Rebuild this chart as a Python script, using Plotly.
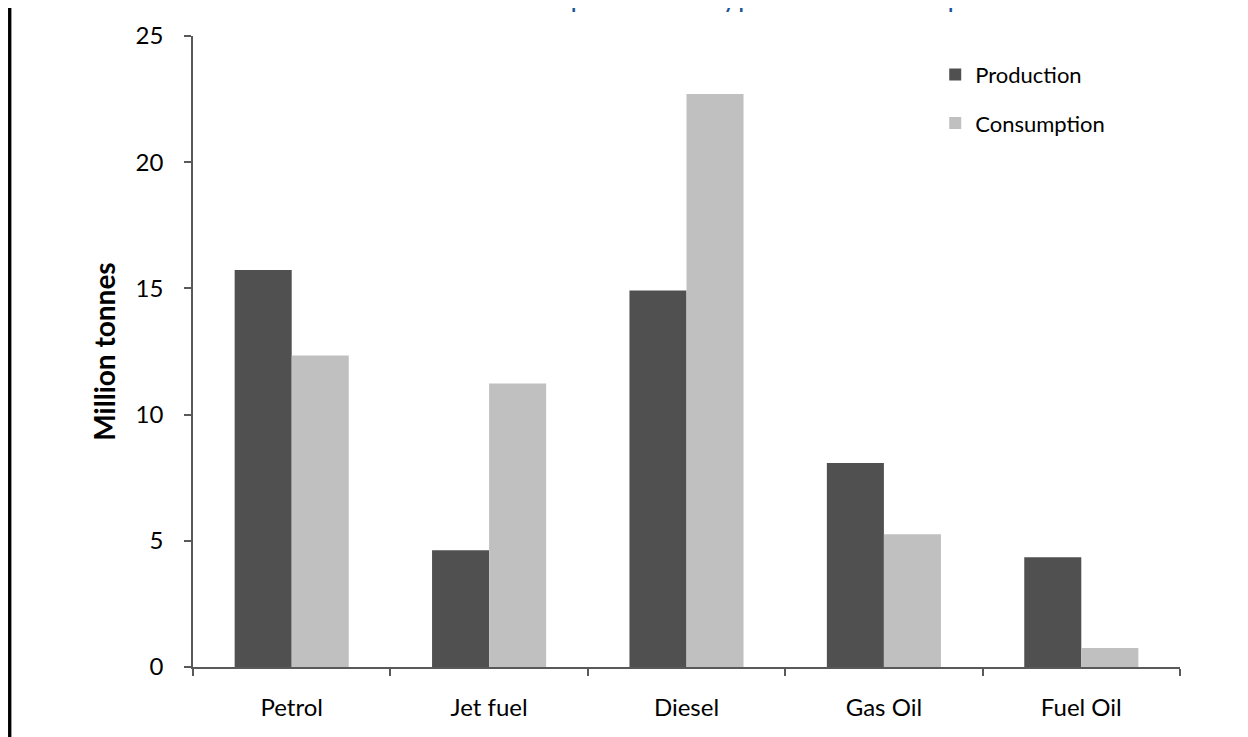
import plotly.graph_objects as go

categories = ["Petrol", "Jet fuel", "Diesel", "Gas Oil", "Fuel Oil"]
production = [15.73, 4.63, 14.92, 8.08, 4.35]
consumption = [12.34, 11.23, 22.70, 5.26, 0.75]
y_ticks = [0, 5, 10, 15, 20, 25]
title_text = "Comparison of refinery production and consumption"

FONT = "Lato, 'Open Sans', sans-serif"
AXIS_COLOR = "#595959"

fig = go.Figure()
fig.add_trace(go.Bar(
    name="Production", x=categories, y=production,
    marker=dict(color="#505050", line=dict(width=0)),
    legendgroup="p",
))
fig.add_trace(go.Bar(
    name="Consumption", x=categories, y=consumption,
    marker=dict(color="#c0c0c0", line=dict(width=0)),
    legendgroup="c",
))

# page has an 8px body margin, so margins are offset accordingly
fig.update_layout(
    width=1248, height=737,
    margin=dict(l=185, r=76, t=25, b=78),
    paper_bgcolor="white", plot_bgcolor="white",
    font=dict(family=FONT, size=24, color="black"),
    barmode="group", bargap=0.422, bargroupgap=0,
    showlegend=True,
    legend=dict(
        x=0.752, y=0.972, xanchor="left", yanchor="top",
        font=dict(size=22, color="black"),
        tracegroupgap=17, bgcolor="rgba(0,0,0,0)",
    ),
    xaxis=dict(
        type="category", tickson="boundaries",
        showline=True, linecolor=AXIS_COLOR, linewidth=1.5,
        ticks="outside", ticklen=7, tickcolor=AXIS_COLOR, tickwidth=1.5,
        showgrid=False, zeroline=False,
        tickfont=dict(size=24), ticklabelstandoff=18,
    ),
    yaxis=dict(
        range=[0, 25], tickvals=y_ticks,
        showline=True, linecolor=AXIS_COLOR, linewidth=1.5,
        ticks="outside", ticklen=7, tickcolor=AXIS_COLOR, tickwidth=1.5,
        showgrid=False, zeroline=False,
        tickfont=dict(size=24), ticklabelstandoff=16,
        title=dict(text="<b>Million tonnes</b>", font=dict(size=28), standoff=12),
    ),
)

# chart-area border (left edge visible); keep it inside the figure's svg
fig.add_shape(type="rect", xref="paper", yref="paper",
              x0=-0.1874, x1=-0.1840, y0=-0.3, y1=1.3,
              fillcolor="black", line=dict(width=0), layer="above")

# title, mostly cropped off the top of the image
fig.add_annotation(
    text=f"<b>{title_text}</b>", xref="paper", yref="paper",
    x=0.5775, y=1.035, xanchor="center", yanchor="bottom",
    showarrow=False, font=dict(size=20, color="#1b5597", family=FONT),
)

fig.write_html("out.html")
